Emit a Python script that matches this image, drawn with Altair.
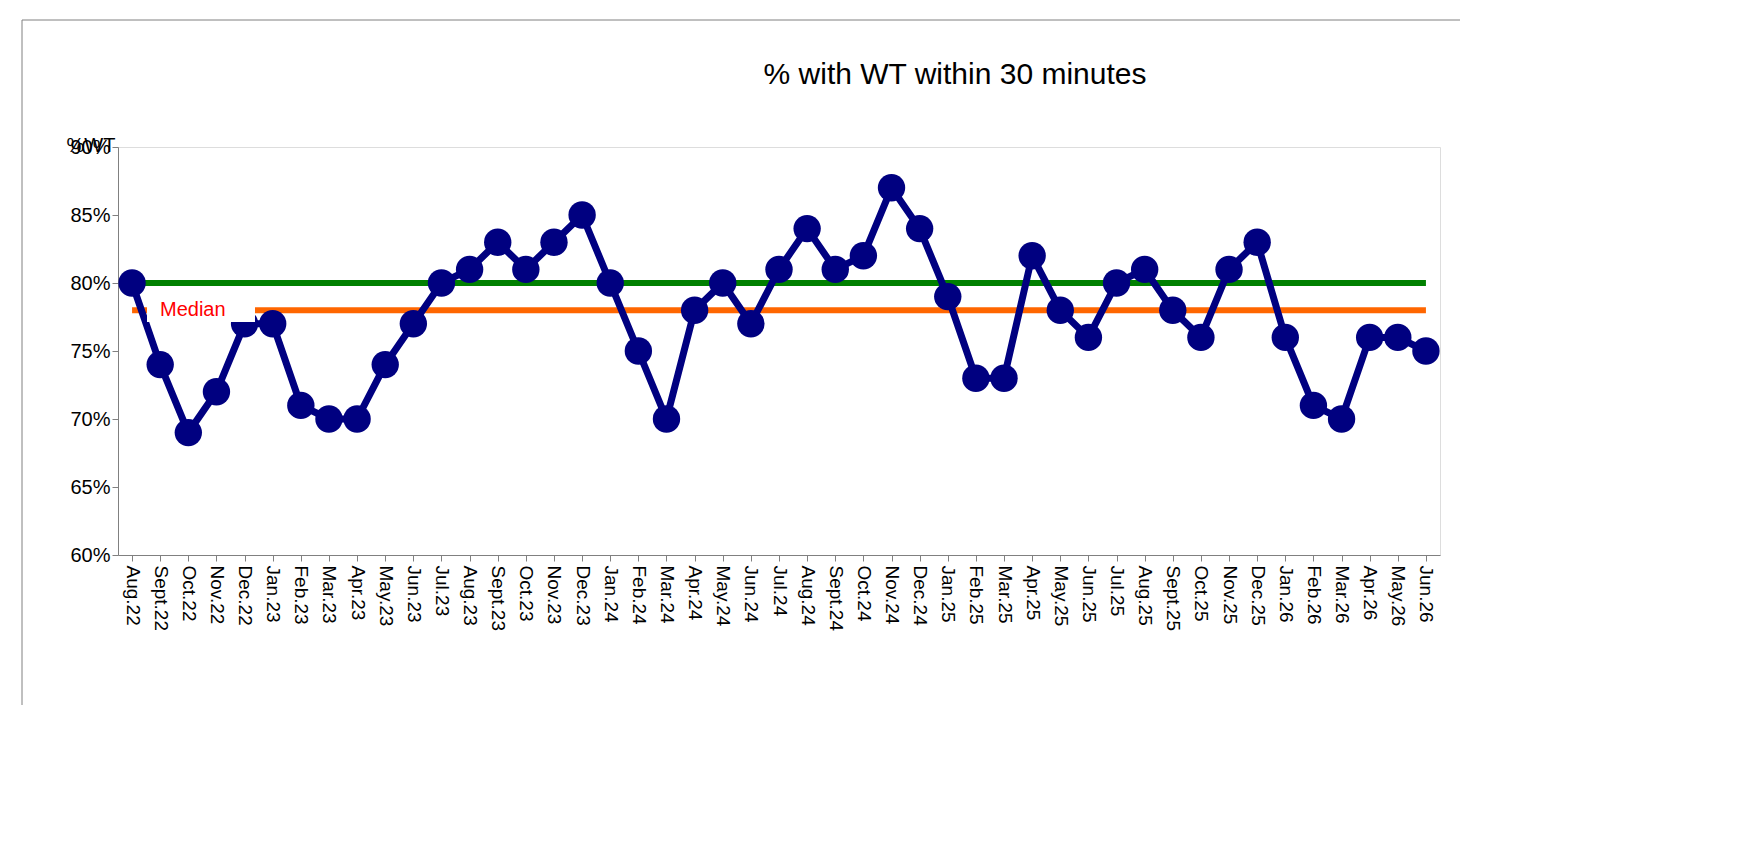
import altair as alt
import pandas as pd

months = ["Aug.22","Sept.22","Oct.22","Nov.22","Dec.22","Jan.23","Feb.23","Mar.23","Apr.23","May.23","Jun.23","Jul.23",
          "Aug.23","Sept.23","Oct.23","Nov.23","Dec.23","Jan.24","Feb.24","Mar.24","Apr.24","May.24","Jun.24","Jul.24",
          "Aug.24","Sept.24","Oct.24","Nov.24","Dec.24","Jan.25","Feb.25","Mar.25","Apr.25","May.25","Jun.25","Jul.25",
          "Aug.25","Sept.25","Oct.25","Nov.25","Dec.25","Jan.26","Feb.26","Mar.26","Apr.26","May.26","Jun.26"]
values = [80,74,69,72,77,77,71,70,70,74,77,80,81,83,81,83,85,80,75,70,78,80,77,81,84,81,82,87,84,79,73,73,82,78,76,80,
          81,78,76,81,83,76,71,70,76,76,75]
target = 80
median = 78

df = pd.DataFrame({"month": months, "v": [x / 100 for x in values],
                   "t": [target / 100] * len(months), "m": [median / 100] * len(months)})
font = "Liberation Sans"

xs = alt.X("month:N", sort=months, scale=alt.Scale(type="point", padding=0.5),
           axis=alt.Axis(title=None, labelAngle=90, labelFontSize=19, labelFont=font, labelColor="black",
                         labelAlign="left", labelBaseline="middle", tickSize=6, domainColor="#808080",
                         tickColor="#808080", labelPadding=4))
yscale = alt.Scale(domain=[0.6, 0.9], nice=False, zero=False)
ys = alt.Y("v:Q", scale=yscale,
           axis=alt.Axis(format=".0%", values=[0.6,0.65,0.7,0.75,0.8,0.85,0.9], grid=False, labelFontSize=20,
                         labelFont=font, labelColor="black", domainColor="#808080", tickColor="#808080",
                         tickSize=6, title="%WT", titleAngle=0, titleX=-52, titleY=-2, titleFontSize=20,
                         titleFont=font, titleFontWeight="normal", titleAlign="left", titleBaseline="middle"))

base = alt.Chart(df)
green = base.mark_line(color="#008000", strokeWidth=6).encode(x=xs, y=alt.Y("t:Q", scale=yscale))
orange = base.mark_line(color="#FF6600", strokeWidth=6).encode(x=xs, y=alt.Y("m:Q", scale=yscale))
line = base.mark_line(color="#000080", strokeWidth=7).encode(x=xs, y=ys)
pts = base.mark_circle(color="#000080", size=750, opacity=1).encode(x=xs, y=ys)
lab = alt.Chart(pd.DataFrame({"x": [0]}))
box = lab.mark_rect(color="white").encode(x=alt.value(29), x2=alt.value(137), y=alt.value(151), y2=alt.value(175))
txt = lab.mark_text(text="Median", color="#FF0000", fontSize=20, font=font, align="left", baseline="middle").encode(
    x=alt.value(42), y=alt.value(163))
title = lab.mark_text(text="% with WT within 30 minutes", fontSize=30, font=font, color="black").encode(
    x=alt.value(837), y=alt.value(-72))
border = lab.mark_rect(fill=None, stroke="#808080", strokeWidth=1).encode(
    x=alt.value(-96), x2=alt.value(1419), y=alt.value(-127), y2=alt.value(575))

chart = alt.layer(border, green, orange, line, pts, box, txt, title).properties(
    width=1322, height=408, autosize=alt.AutoSizeParams(type="none"),
    padding={"left": 110, "top": 139, "right": 20, "bottom": 150}
).configure_view(stroke="#808080", strokeWidth=2).configure(background="white")

chart.save("out.html", embed_options={"renderer": "svg", "actions": False})
